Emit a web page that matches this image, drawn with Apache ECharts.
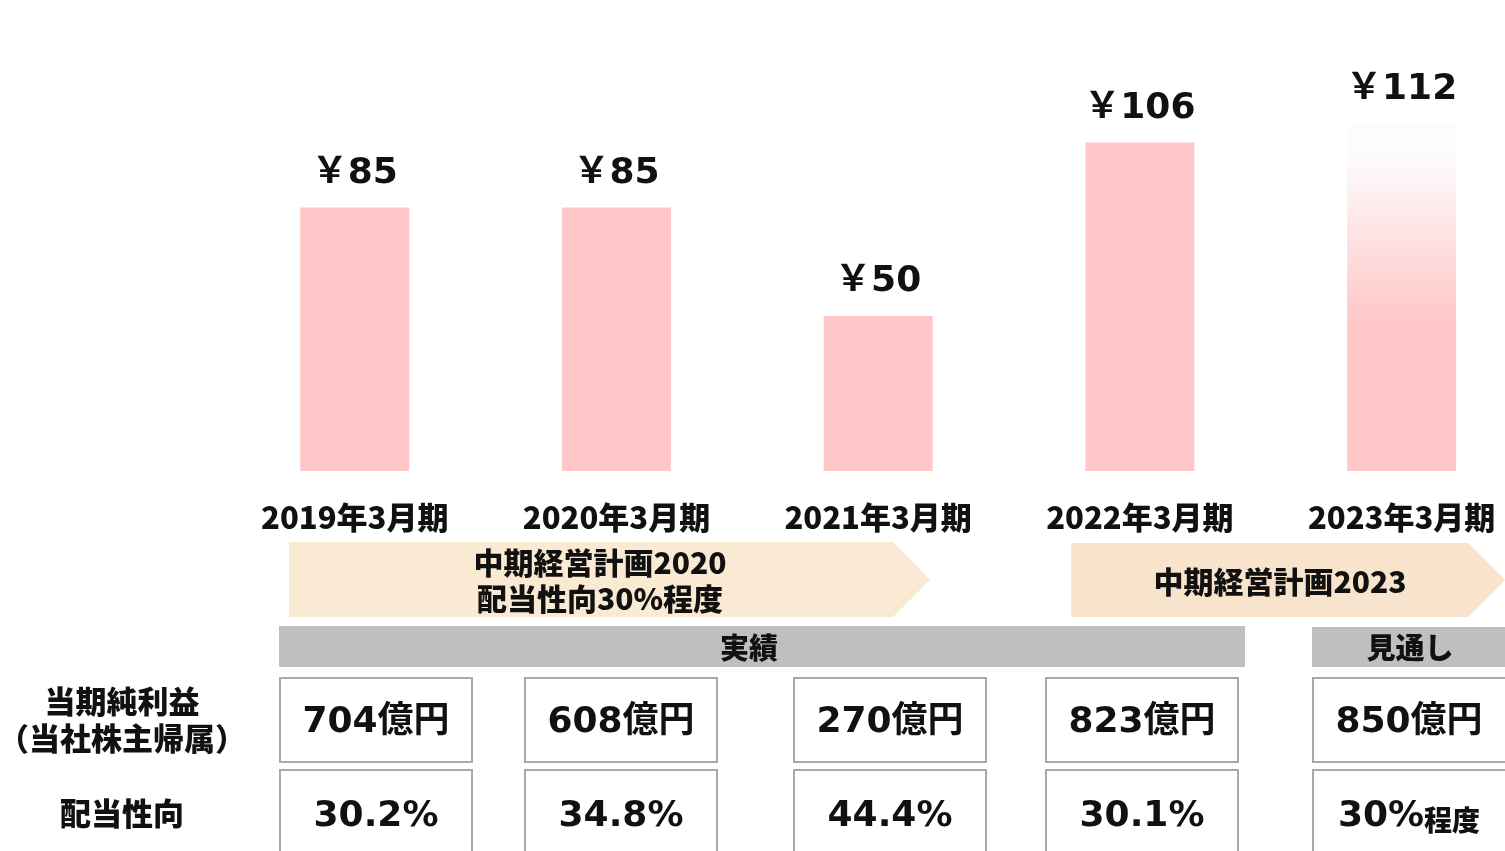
<!DOCTYPE html>
<html>
<head>
<meta charset="utf-8">
<script src="https://cdn.jsdelivr.net/npm/echarts@6/dist/echarts.min.js"></script>
<style>
html, body { margin: 0; padding: 0; background: #fff; }
#main { width: 1505px; height: 851px; }
</style>
</head>
<body>
<div id="main"></div>
<script>
var periods = ['2019年3月期', '2020年3月期', '2021年3月期', '2022年3月期', '2023年3月期'];
var dividends = [85, 85, 50, 106, 112];
var netIncome = [704, 608, 270, 823, 850];   // 億円
var payout = [30.2, 34.8, 44.4, 30.1, 30];   // %
var forecastIndex = 4;

var cjk = '"Noto Sans CJK JP", sans-serif';
var latin = '"DejaVu Sans", "Noto Sans CJK JP", sans-serif';

var myChart = echarts.init(document.getElementById('main'));

// bars sit on positions 1..5 of a value axis so the last column can run off the right edge
var barData = dividends.map(function (v, i) {
    if (i !== forecastIndex) return [i + 1, v];
    return {
        value: [i + 1, v],
        itemStyle: {
            color: new echarts.graphic.LinearGradient(0, 0, 0, 1, [
                {offset: 0, color: '#fcfdff'},
                {offset: 0.1, color: '#fcfbfc'},
                {offset: 0.57, color: '#ffc7c7'},
                {offset: 1, color: '#ffc7c7'}
            ])
        }
    };
});

// table below the bars
var colX = [280, 525, 794, 1046, 1313];
var boxW = 192;
var elements = [];

// plan arrows
elements.push({
    type: 'polygon', silent: true,
    shape: {points: [[289, 542], [893, 542], [930, 580], [893, 617], [289, 617]]},
    style: {fill: '#faead3'}
});
elements.push({
    type: 'text', silent: true, x: 600, y: 581,
    style: {text: '中期経営計画2020\n配当性向30%程度', font: '900 30px ' + cjk,
            fill: '#111', align: 'center', verticalAlign: 'middle', lineHeight: 36}
});
elements.push({
    type: 'polygon', silent: true,
    shape: {points: [[1071, 543], [1468, 543], [1505, 580], [1468, 617], [1071, 617]]},
    style: {fill: '#f8e3cc'}
});
elements.push({
    type: 'text', silent: true, x: 1280, y: 582,
    style: {text: '中期経営計画2023', font: '900 30px ' + cjk,
            fill: '#111', align: 'center', verticalAlign: 'middle'}
});

// 実績 / 見通し headers
elements.push({type: 'rect', silent: true, shape: {x: 279, y: 626, width: 966, height: 41}, style: {fill: '#bfbfbf'}});
elements.push({type: 'text', silent: true, x: 749, y: 648,
    style: {text: '実績', font: '900 29px ' + cjk, fill: '#111', align: 'center', verticalAlign: 'middle'}});
elements.push({type: 'rect', silent: true, shape: {x: 1312, y: 627, width: 200, height: 40}, style: {fill: '#bfbfbf'}});
elements.push({type: 'text', silent: true, x: 1410, y: 648,
    style: {text: '見通し', font: '900 29px ' + cjk, fill: '#111', align: 'center', verticalAlign: 'middle'}});

// row titles
elements.push({type: 'text', silent: true, x: 122, y: 720,
    style: {text: '当期純利益\n（当社株主帰属）', font: '900 31px ' + cjk, fill: '#111',
            align: 'center', verticalAlign: 'middle', lineHeight: 37}});
elements.push({type: 'text', silent: true, x: 122, y: 813,
    style: {text: '配当性向', font: '900 31px ' + cjk, fill: '#111', align: 'center', verticalAlign: 'middle'}});

colX.forEach(function (x, i) {
    var w = i === forecastIndex ? boxW + 10 : boxW;
    elements.push({type: 'rect', silent: true, shape: {x: x, y: 678, width: w, height: 84},
        style: {fill: '#fff', stroke: '#a9a9a9', lineWidth: 2}});
    elements.push({type: 'rect', silent: true, shape: {x: x, y: 770, width: w, height: 100},
        style: {fill: '#fff', stroke: '#a9a9a9', lineWidth: 2}});
    elements.push({type: 'text', silent: true, x: x + 96, y: 723,
        style: {text: netIncome[i] + '億円', font: 'bold 36px ' + latin, fill: '#111',
                align: 'center', verticalAlign: 'middle'}});
    var pText = i === forecastIndex
        ? '{a|' + payout[i] + '%}{b|程度}'
        : '{a|' + payout[i].toFixed(1) + '%}';
    elements.push({type: 'text', silent: true, x: x + 96, y: 817,
        style: {text: pText, align: 'center', verticalAlign: 'middle', fill: '#111',
                rich: {a: {font: 'bold 36px ' + latin, fill: '#111'},
                       b: {font: '900 28px ' + cjk, fill: '#111', padding: [6, 0, 0, 0]}}}});
});

option = {
    animation: false,
    backgroundColor: '#fff',
    grid: {left: 93, right: 0, top: 6, bottom: 380},
    xAxis: {
        type: 'value',
        min: 0,
        max: 5.395,
        interval: 1,
        axisLine: {show: false},
        axisTick: {show: false},
        splitLine: {show: false},
        axisLabel: {
            margin: 31,
            showMinLabel: false,
            showMaxLabel: false,
            formatter: function (v) { return periods[v - 1] || ''; },
            fontFamily: cjk,
            fontWeight: 900,
            fontSize: 31,
            color: '#111'
        }
    },
    yAxis: {
        type: 'value',
        min: 0,
        max: 150,
        show: false,
        splitLine: {show: false}
    },
    series: [{
        type: 'bar',
        barWidth: 109,
        data: barData,
        itemStyle: {color: '#ffc7c7'},
        label: {
            show: true,
            position: 'top',
            distance: 16,
            formatter: function (p) { return '￥' + p.value[1]; },
            fontFamily: latin,
            fontWeight: 'bold',
            fontSize: 36,
            color: '#111'
        }
    }],
    graphic: {elements: elements}
};

myChart.setOption(option);
</script>
</body>
</html>
